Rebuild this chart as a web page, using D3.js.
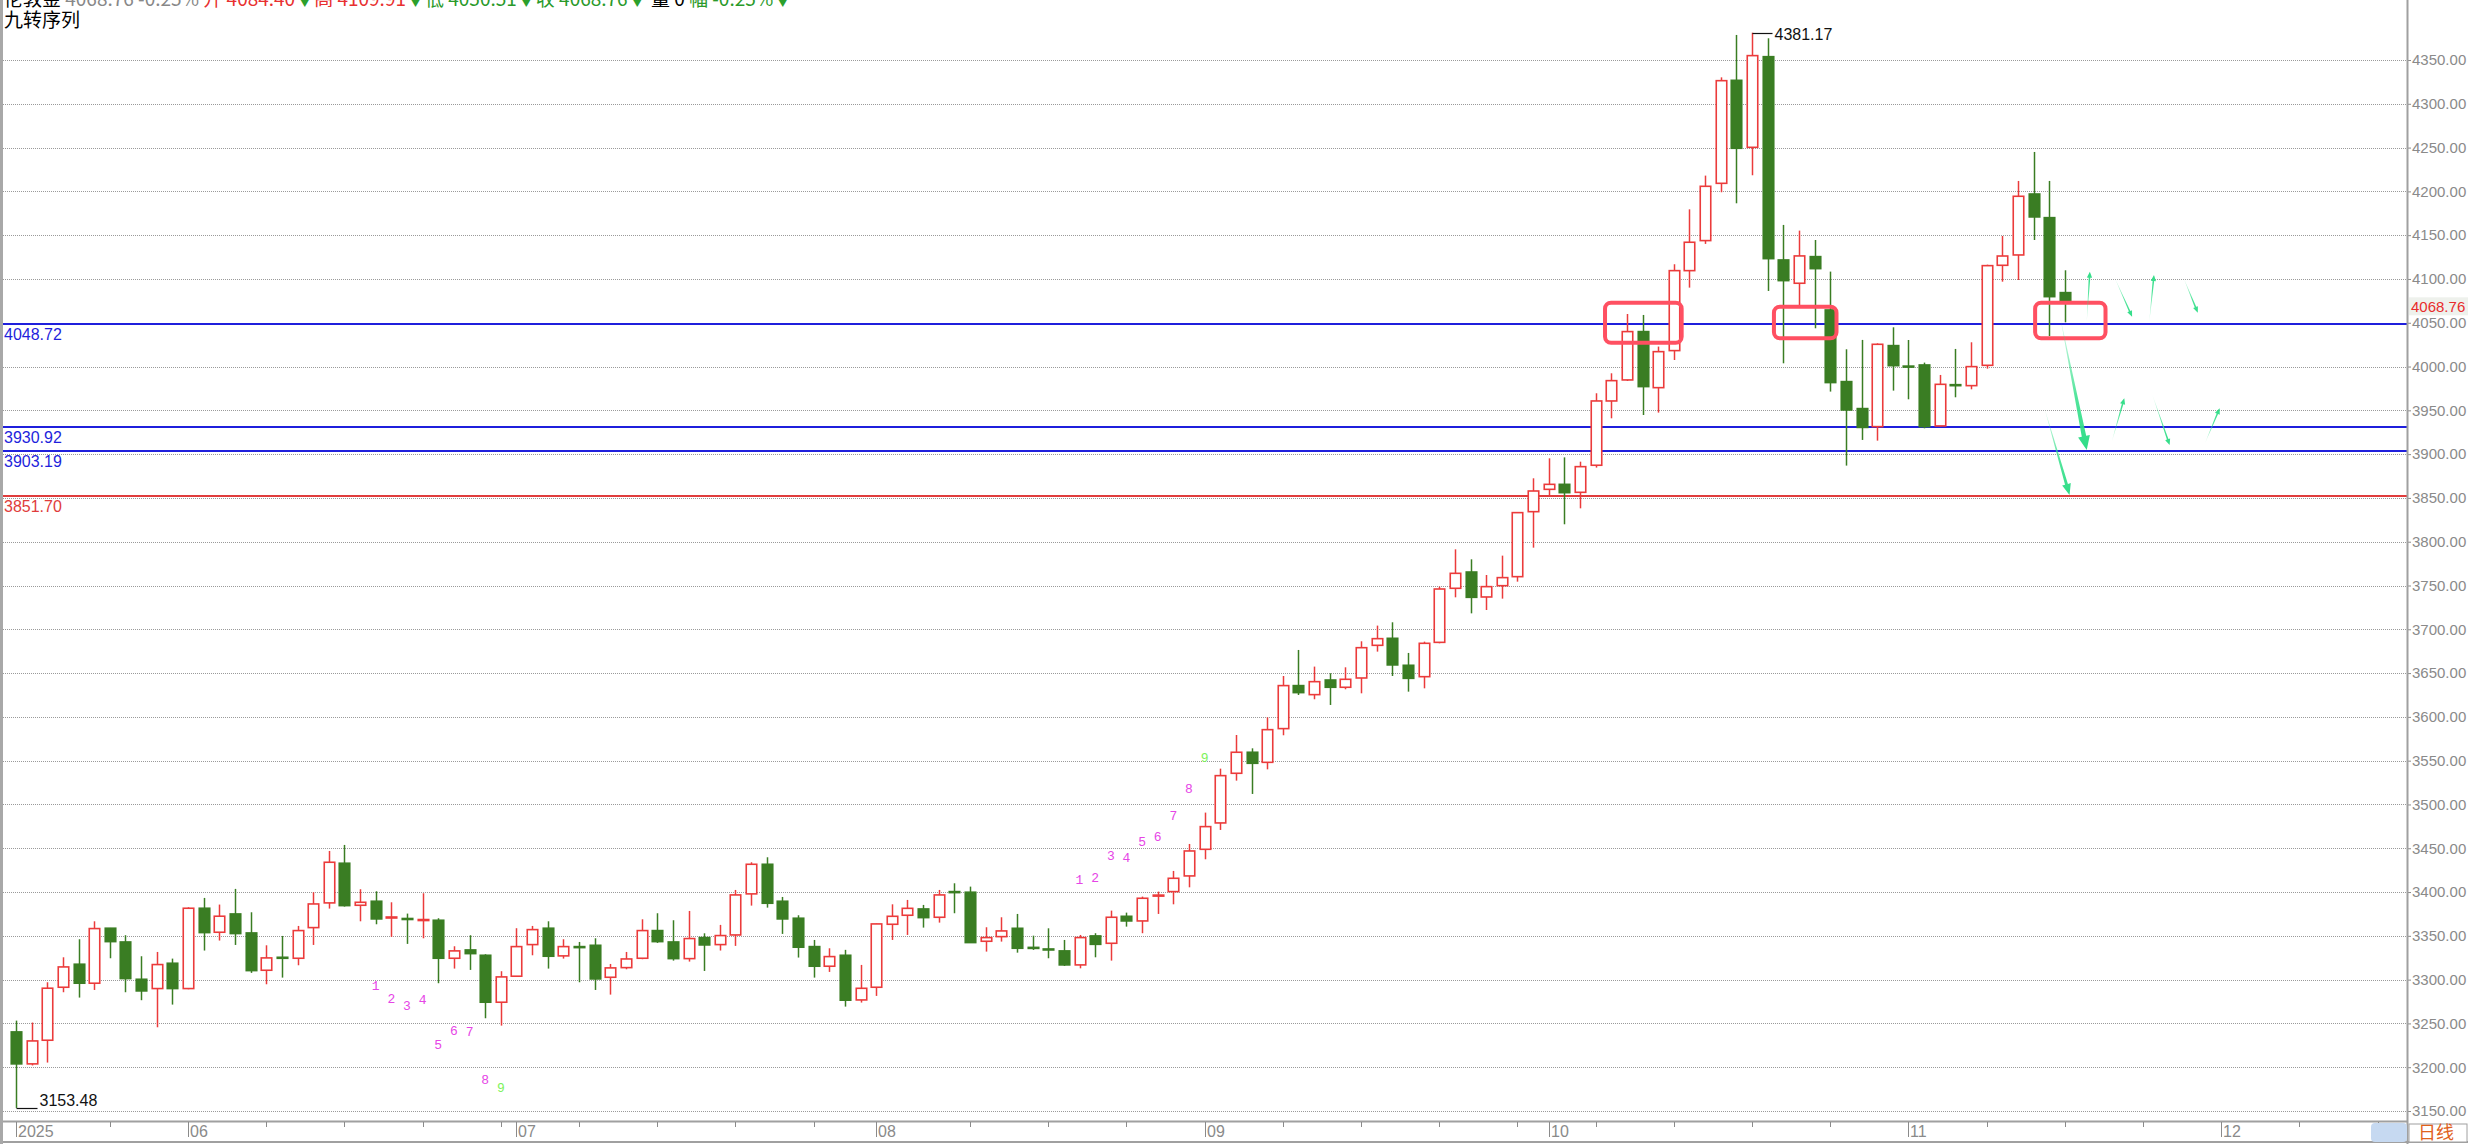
<!DOCTYPE html>
<html><head><meta charset="utf-8">
<script src="https://cdn.jsdelivr.net/npm/d3@7"></script>
<style>html,body{margin:0;padding:0;background:#fff;overflow:hidden}svg{display:block}</style>
</head><body><svg id="c" width="2468" height="1144"></svg>
<script>
// ---------------- DATA ----------------
const openVals=[3240.3,3203.8,3230.8,3291.3,3317.6,3295.9,3358.7,3343.0,3300.4,3289.8,3318.7,3289.8,3381.5,3354.1,3375.0,3353.3,3310.7,3325.5,3324.4,3359.4,3387.6,3432.9,3384.9,3389.5,3371.0,3369.8,3368.3,3367.8,3324.4,3333.9,3327.8,3274.2,3303.9,3340.0,3358.7,3327.1,3337.7,3339.2,3302.7,3313.7,3324.4,3356.0,3343.0,3324.0,3348.0,3340.0,3351.0,3397.9,3431.7,3389.5,3370.1,3337.7,3315.3,3327.8,3276.8,3291.3,3363.2,3373.5,3380.7,3371.2,3400.5,3399.8,3343.8,3349.1,3358.6,3336.8,3335.0,3332.8,3316.8,3349.9,3341.5,3372.3,3367.0,3395.8,3400.5,3418.4,3448.8,3478.9,3535.6,3559.6,3548.1,3586.6,3635.7,3625.4,3642.1,3633.8,3644.4,3681.7,3689.7,3658.9,3645.9,3685.1,3746.8,3765.4,3736.9,3749.8,3760.1,3834.3,3859.8,3865.5,3856.4,3887.3,3960.7,3984.7,4039.9,3975.9,4018.2,4109.5,4143.8,4209.2,4326.8,4250.3,4353.8,4121.7,4095.1,4125.5,4064.6,3982.8,3952.0,3931.4,4023.9,4000.5,4001.8,3932.2,3979.3,3978.2,4001.4,4115.6,4127.4,4197.0,4170.0,4084.4];
const highVals=[3253.2,3251.0,3297.0,3325.5,3346.1,3366.6,3359.0,3350.7,3326.7,3331.6,3324.0,3382.6,3393.3,3385.7,3403.6,3376.9,3339.2,3349.9,3361.3,3399.8,3446.9,3453.8,3403.2,3400.9,3388.3,3375.4,3398.6,3370.1,3338.1,3350.7,3329.0,3309.6,3358.7,3361.3,3366.6,3346.1,3343.0,3347.2,3317.9,3331.6,3368.9,3375.8,3367.8,3378.4,3352.9,3362.5,3402.4,3434.0,3439.7,3394.4,3373.5,3345.3,3335.8,3334.0,3316.8,3364.0,3386.0,3391.0,3385.3,3402.4,3410.0,3406.2,3359.8,3371.2,3375.0,3350.2,3358.6,3345.3,3351.0,3353.0,3378.8,3376.5,3394.8,3400.5,3424.1,3454.9,3490.7,3540.9,3579.3,3564.1,3599.5,3646.7,3676.4,3657.4,3649.8,3656.6,3686.3,3704.2,3708.0,3673.0,3685.9,3748.7,3791.3,3779.9,3762.0,3784.1,3833.2,3872.4,3895.2,3896.3,3891.4,3969.5,3992.3,4060.0,4058.9,4022.8,4116.8,4179.5,4218.0,4330.2,4378.6,4381.17,4374.8,4161.7,4155.2,4144.5,4108.4,4019.7,4030.4,4026.5,4044.8,4030.3,4004.5,3990.4,4020.1,4027.7,4116.3,4149.1,4211.9,4245.0,4211.9,4109.9];
const lowVals=[3153.48,3202.0,3205.3,3285.6,3279.5,3288.2,3324.4,3285.6,3276.5,3245.6,3271.5,3289.0,3333.2,3344.6,3339.6,3307.7,3294.7,3302.3,3316.4,3339.6,3381.1,3383.4,3366.6,3363.2,3348.8,3340.8,3347.2,3295.9,3312.6,3311.1,3255.9,3247.5,3303.5,3327.8,3312.6,3324.0,3297.0,3288.2,3282.9,3311.8,3323.3,3341.9,3321.7,3320.6,3309.9,3333.2,3338.5,3384.5,3382.2,3352.2,3325.2,3302.3,3308.8,3269.2,3273.8,3281.4,3345.3,3351.0,3359.4,3365.1,3375.8,3342.0,3332.0,3343.4,3330.8,3333.9,3324.4,3315.6,3312.9,3325.5,3321.7,3360.5,3353.0,3375.0,3386.0,3405.4,3437.4,3470.9,3527.2,3512.0,3540.1,3579.0,3625.0,3620.1,3613.6,3631.5,3626.9,3674.5,3646.7,3628.8,3632.6,3684.0,3736.5,3718.2,3722.0,3735.0,3754.4,3793.2,3853.3,3819.9,3838.1,3884.6,3940.9,3983.5,3944.7,3947.4,4007.5,4090.1,4140.0,4199.0,4186.4,4218.4,4086.3,4003.7,4069.2,4043.7,3971.4,3886.9,3916.2,3915.4,3972.5,3962.6,3929.5,3931.5,3964.9,3974.0,3997.6,4096.9,4098.8,4144.5,4034.9,4050.5];
const closeVals=[3203.8,3230.0,3290.2,3314.5,3295.9,3358.3,3343.4,3301.2,3287.1,3317.2,3289.8,3381.5,3353.7,3372.4,3352.6,3310.3,3324.8,3324.5,3356.0,3386.4,3434.0,3384.5,3388.3,3369.3,3371.5,3369.3,3368.6,3324.4,3332.8,3329.7,3274.2,3303.1,3337.7,3357.1,3326.7,3337.7,3337.3,3300.8,3313.4,3323.6,3356.0,3343.4,3324.0,3346.9,3339.6,3350.3,3396.7,3431.7,3387.2,3369.3,3337.0,3315.3,3326.3,3276.5,3290.1,3363.6,3372.3,3381.4,3370.8,3396.7,3400.2,3342.3,3348.0,3355.6,3335.8,3336.5,3334.7,3316.8,3348.0,3340.3,3371.2,3367.0,3392.9,3396.5,3415.7,3446.9,3474.7,3532.9,3559.6,3547.0,3585.4,3635.7,3627.7,3640.2,3633.8,3642.9,3679.0,3689.3,3659.3,3644.0,3684.0,3746.0,3763.9,3736.5,3748.7,3759.0,3833.2,3857.9,3865.5,3856.0,3885.7,3960.7,3983.9,4039.9,3977.1,4017.0,4109.5,4141.9,4205.8,4326.4,4249.2,4355.0,4123.2,4098.1,4126.3,4111.8,3981.7,3950.4,3930.5,4025.4,4001.0,4000.2,3931.4,3979.7,3978.9,3999.9,4115.2,4126.2,4194.4,4170.8,4079.8,4074.1];

const yTickVals=d3.range(3150,4351,50);
const monthIdx=[0,11,32,55,76,98,121,141];
const monthLabels=["2025","06","07","08","09","10","11","12"];
const weekIdx=[6,16,21,26,31,36,41,46,51,61,66,71,81,86,91,96,101,106,111,116,126,131,136,146,151];

const levelVals=[4048.72,3930.92,3903.19,3851.70];
const levelKinds=["support","support","support","stop"];
const lastPrice=4068.76;
const peakIdx=111, peakVal=4381.17;
const troughIdx=0, troughVal=3153.48;

// 九转序列 markers
const td1Idx=[23,24,25,26,27,28,29,30,31];
const td2Idx=[68,69,70,71,72,73,74,75,76];
const tdNums=[1,2,3,4,5,6,7,8,9];

// highlight boxes (candle-index span, price span)
const boxI0=[101.6,112.4,129.1], boxI1=[106.5,116.4,133.6];
const boxP0=[4072.9,4068.3,4072.9], boxP1=[4027.2,4032.3,4032.3];

// projection arrows
const arrI0=[130.7,129.7,132.4,134.2,136.4,138.6,134.0,136.6,139.96];
const arrP0=[4056.9,3952.4,4051.2,4100.8,4051.2,4100.8,3914.2,3967.5,3912.4];
const arrI1=[132.4,131.3,132.6,135.3,136.7,139.5,134.8,137.7,140.9];
const arrP1=[3904.7,3853.4,4108.3,4056.9,4104.5,4061.5,3963.8,3910.4,3952.4];
const arrW=[4.5,3,1.6,1.6,1.6,1.6,1.6,1.6,1.6];

const headerParts=[["伦敦金","#000"],["  4068.76 -0.25%  ","#888"],["开 4084.40","#e83030"],["▼","#2ca02c"],["高 4109.91","#e83030"],["▼","#2ca02c"],["低 4050.51","#2a9a2a"],["▼","#2ca02c"],["收 4068.76","#2a9a2a"],["▼","#2ca02c"],["  量 0  ","#000"],["  幅 -0.25%","#2a9a2a"],["▼","#2ca02c"]];

// ---------------- DRAW ----------------
const W=2468,H=1144, AX=2407, BY=1121;
const svg=d3.select("#c");
const FONT="'Liberation Sans', Arial, sans-serif";
const CJK="'Noto Sans CJK SC', sans-serif";
const x=d3.scaleLinear().domain([0,131]).range([16,16+131*15.64]);
const y=d3.scaleLinear().domain([3150,4350]).range([1111,60]);
const data=openVals.map((o,i)=>({i,o,h:highVals[i],l:lowVals[i],c:closeVals[i]}));

svg.append("rect").attr("width",W).attr("height",H).attr("fill","#fff");
svg.append("defs").append("clipPath").attr("id","plot").append("rect")
  .attr("x",3).attr("y",0).attr("width",AX-3).attr("height",BY);

// grid
const grid=svg.append("g");
grid.selectAll("line").data(yTickVals).join("line")
  .attr("x1",3).attr("x2",AX).attr("y1",d=>Math.round(y(d))+0.5).attr("y2",d=>Math.round(y(d))+0.5)
  .attr("stroke","#9a9a9a").attr("stroke-width",1).attr("stroke-dasharray","1,1");

// level lines
const lvColor=k=>k==="stop"?"#e03c3c":"#1f1fdc";
const lv=svg.append("g");
levelVals.forEach((v,k)=>{
  const yy=Math.round(y(v));
  lv.append("line").attr("x1",3).attr("x2",AX).attr("y1",yy).attr("y2",yy)
    .attr("stroke",lvColor(levelKinds[k])).attr("stroke-width",2).attr("shape-rendering","crispEdges");
  lv.append("text").attr("x",4).attr("y",yy+16).attr("fill",lvColor(levelKinds[k]))
    .attr("font-family",FONT).attr("font-size",16).text(v.toFixed(2));
});

// candles
const cg=svg.append("g").attr("clip-path","url(#plot)");
const up=d=>d.c>=d.o;
const RED="#eb3b3b", GREEN="#3a7d23";
cg.selectAll("line.w").data(data).join("line").attr("class","w")
  .attr("x1",d=>Math.round(x(d.i))+0.5).attr("x2",d=>Math.round(x(d.i))+0.5)
  .attr("y1",d=>y(d.h)).attr("y2",d=>y(d.l))
  .attr("stroke",d=>up(d)?RED:GREEN).attr("stroke-width",1.5);
cg.selectAll("rect.b").data(data).join("rect").attr("class","b")
  .attr("x",d=>Math.round(x(d.i))+0.5-5.25)
  .attr("width",10.5)
  .attr("y",d=>y(Math.max(d.o,d.c)))
  .attr("height",d=>Math.max(1,y(Math.min(d.o,d.c))-y(Math.max(d.o,d.c))))
  .attr("fill",d=>up(d)?"#fff":GREEN)
  .attr("stroke",d=>up(d)?RED:GREEN).attr("stroke-width",1.6);

// peak / trough annotations
const ann=svg.append("g").attr("font-family",FONT).attr("font-size",16).attr("fill","#111");
{
  const px=Math.round(x(peakIdx))+0.5, py=Math.round(y(peakVal))+0.5;
  ann.append("line").attr("x1",px).attr("x2",px+20).attr("y1",py).attr("y2",py).attr("stroke","#111").attr("stroke-width",1.2);
  ann.append("text").attr("x",px+22).attr("y",py+6).text(peakVal.toFixed(2));
  const tx=Math.round(x(troughIdx))+0.5, ty=Math.round(y(troughVal))+0.5;
  ann.append("line").attr("x1",tx).attr("x2",tx+21).attr("y1",ty).attr("y2",ty).attr("stroke","#111").attr("stroke-width",1.2);
  ann.append("text").attr("x",tx+23).attr("y",ty-3).text(troughVal.toFixed(2));
}

// 九转 numbers
const tdg=svg.append("g").attr("font-family","'Liberation Mono', monospace").attr("font-size",13).attr("text-anchor","middle");
td1Idx.forEach((i,k)=>{
  tdg.append("text").attr("x",x(i)).attr("y",y(lowVals[i])+66)
    .attr("fill",k===8?"#7df25a":"#e645e6").text(tdNums[k]);
});
td2Idx.forEach((i,k)=>{
  tdg.append("text").attr("x",x(i)).attr("y",y(highVals[i])-51)
    .attr("fill",k===8?"#7df25a":"#e645e6").text(tdNums[k]);
});

// highlight boxes
svg.append("g").selectAll("rect").data(boxI0).join("rect")
  .attr("x",(d,k)=>x(boxI0[k])).attr("width",(d,k)=>x(boxI1[k])-x(boxI0[k]))
  .attr("y",(d,k)=>y(boxP0[k])).attr("height",(d,k)=>y(boxP1[k])-y(boxP0[k]))
  .attr("rx",6).attr("fill","none").attr("stroke","#ff5062").attr("stroke-width",4);

// projection arrows (tapered)
const ag=svg.append("g");
arrI0.forEach((d,k)=>{
  const x1=x(arrI0[k]),y1=y(arrP0[k]),x2=x(arrI1[k]),y2=y(arrP1[k]);
  const dx=x2-x1,dy=y2-y1,L=Math.hypot(dx,dy),ux=dx/L,uy=dy/L,px=-uy,py=ux;
  const w=arrW[k], hl=w>3?14:(w>2?11:6), hw=w>3?6:(w>2?4.5:2.6);
  const bx=x2-ux*hl,by=y2-uy*hl;
  const pts=[[x1,y1],[bx+px*w/2,by+py*w/2],[bx+px*hw,by+py*hw],[x2,y2],[bx-px*hw,by-py*hw],[bx-px*w/2,by-py*w/2]];
  const gid="ag"+k;
  const lg=svg.select("defs").append("linearGradient").attr("id",gid).attr("gradientUnits","userSpaceOnUse")
    .attr("x1",x1).attr("y1",y1).attr("x2",x2).attr("y2",y2);
  lg.append("stop").attr("offset",0).attr("stop-color","#34e08a").attr("stop-opacity",0.15);
  lg.append("stop").attr("offset",0.6).attr("stop-color","#34e08a").attr("stop-opacity",0.85);
  lg.append("stop").attr("offset",1).attr("stop-color","#2fdc86").attr("stop-opacity",1);
  ag.append("polygon").attr("points",pts.map(p=>p.join(",")).join(" ")).attr("fill",`url(#${gid})`);
});

// right axis
const ra=svg.append("g").attr("transform",`translate(${AX},0)`)
  .call(d3.axisRight(y).tickValues(yTickVals).tickFormat(d3.format(".2f")).tickSize(4).tickPadding(1));
ra.select(".domain").remove();
ra.selectAll(".tick line").attr("stroke","#8a8a8a");
ra.selectAll(".tick text").attr("fill","#8a8a8a").attr("font-family",FONT).attr("font-size",15);
svg.append("line").attr("x1",AX+0.5).attr("x2",AX+0.5).attr("y1",0).attr("y2",H).attr("stroke","#a0a0a0").attr("stroke-width",2);

// last price marker
{
  const yy=y(lastPrice);
  svg.append("rect").attr("x",AX+2).attr("y",yy-9).attr("width",W-AX-2).attr("height",18).attr("fill","#eef1ec");
  svg.append("text").attr("x",AX+4).attr("y",yy+6).attr("fill","#e82c2c").attr("font-family",FONT).attr("font-size",15).text(lastPrice.toFixed(2));
}

// bottom axis
const bg=svg.append("g");
bg.append("line").attr("x1",0).attr("x2",AX).attr("y1",BY+0.5).attr("y2",BY+0.5).attr("stroke","#a0a0a0").attr("stroke-width",2);
bg.append("line").attr("x1",0).attr("x2",W).attr("y1",H-2).attr("y2",H-2).attr("stroke","#a0a0a0").attr("stroke-width",2);
bg.selectAll("line.wk").data(weekIdx).join("line").attr("class","wk")
  .attr("x1",d=>Math.round(x(d))+0.5).attr("x2",d=>Math.round(x(d))+0.5).attr("y1",BY+1).attr("y2",BY+6)
  .attr("stroke","#8a8a8a");
bg.selectAll("line.mo").data(monthIdx).join("line").attr("class","mo")
  .attr("x1",d=>Math.round(x(d))+0.5).attr("x2",d=>Math.round(x(d))+0.5).attr("y1",BY+1).attr("y2",BY+16)
  .attr("stroke","#8a8a8a");
bg.selectAll("text").data(monthIdx).join("text")
  .attr("x",d=>Math.round(x(d))+2).attr("y",BY+16).attr("fill","#8a8a8a")
  .attr("font-family",FONT).attr("font-size",16)
  .text((d,k)=>monthLabels[k]);
// scroll thumb
svg.append("rect").attr("x",2371).attr("y",BY+2).attr("width",AX-2371).attr("height",H-BY-4).attr("rx",4).attr("fill","#c6d9f1");
// 日线 tab
svg.append("rect").attr("x",AX+2).attr("y",BY+3).attr("width",W-AX-3).attr("height",H-BY-5).attr("fill","#fff").attr("stroke","#a0a0a0");
svg.append("text").attr("x",AX+11).attr("y",H-5).attr("fill","#e0611c").attr("font-family",CJK).attr("font-size",18).text("日线");

// left border
svg.append("rect").attr("x",0).attr("y",0).attr("width",3).attr("height",H).attr("fill","#a8a8a8");

// header (first line is partly cut at the top edge, as in the reference)
const ht=svg.append("text").attr("x",4).attr("y",6).attr("font-family",CJK).attr("font-size",19);
headerParts.forEach(p=>ht.append("tspan").attr("fill",p[1]).text(p[0]));
svg.append("text").attr("x",4).attr("y",27).attr("font-family",CJK).attr("font-size",19).attr("fill","#000").text("九转序列");
</script></body></html>
